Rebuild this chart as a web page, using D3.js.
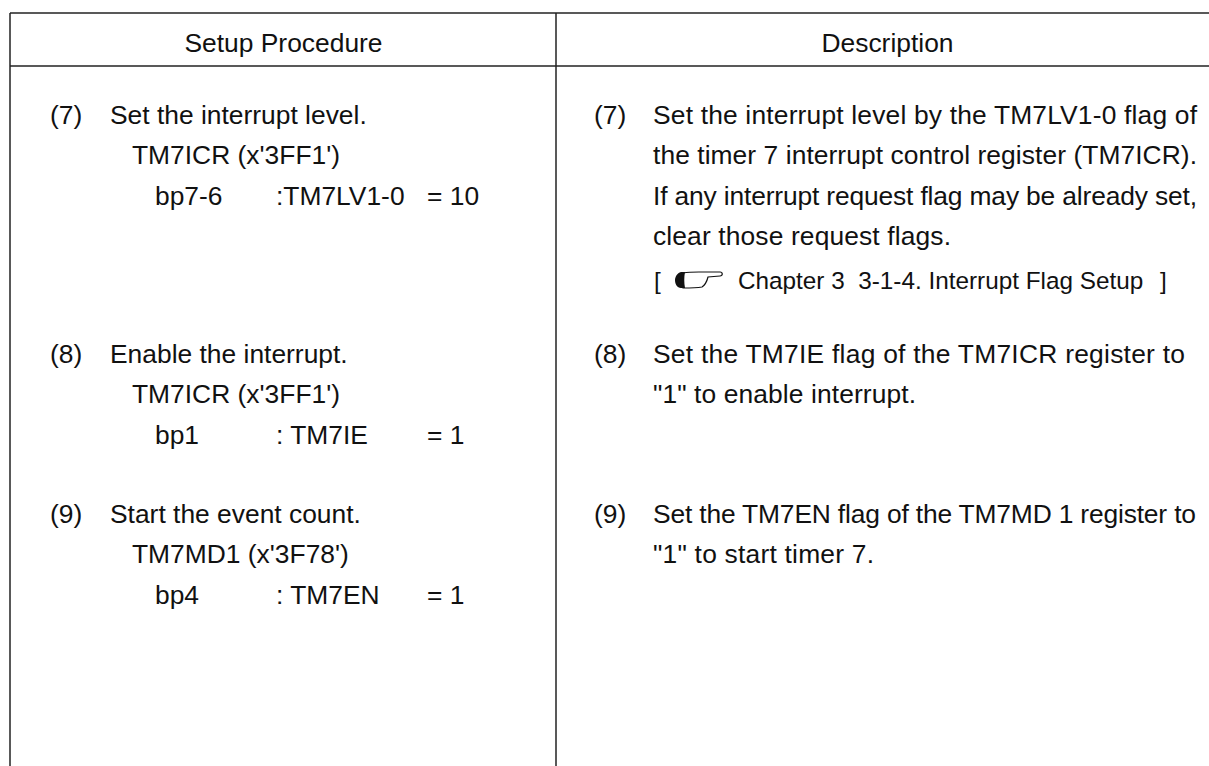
<!DOCTYPE html>
<html>
<head>
<meta charset="utf-8">
<script src="https://cdn.jsdelivr.net/npm/d3@7"></script>
<style>
html, body { margin: 0; padding: 0; background: #fff; }
svg { display: block; }
text { font-family: "Liberation Sans", Arial, sans-serif; fill: #111; font-size: 26.4px; white-space: pre; }
</style>
</head>
<body>
<svg width="1209" height="766"></svg>
<script>
var headers = ["Setup Procedure", "Description"];

var steps = ["(7)", "(8)", "(9)"];
var leftTitles = ["Set the interrupt level.", "Enable the interrupt.", "Start the event count."];
var leftRegisters = ["TM7ICR (x'3FF1')", "TM7ICR (x'3FF1')", "TM7MD1 (x'3F78')"];
var leftBits = ["bp7-6", "bp1", "bp4"];
var leftFlags = [":TM7LV1-0", ": TM7IE", ": TM7EN"];
var leftValues = ["= 10", "= 1", "= 1"];

var rightLines = [
    ["Set the interrupt level by the TM7LV1-0 flag of",
     "the timer 7 interrupt control register (TM7ICR).",
     "If any interrupt request flag may be already set,",
     "clear those request flags."],
    ["Set the TM7IE flag of the TM7ICR register to",
     "\"1\" to enable interrupt."],
    ["Set the TM7EN flag of the TM7MD 1 register to",
     "\"1\" to start timer 7."]
];
var refNote = ["[", "Chapter 3  3-1-4. Interrupt Flag Setup", "]"];

var svg = d3.select("svg");
var width = +svg.attr("width"), height = +svg.attr("height");

var left = 10, mid = 556, right = width, top_ = 13, headLine = 66;

// baseline of each step's first line, then a fixed line pitch
var stepY = d3.scaleOrdinal().domain(steps).range([124, 363, 523]);
var lineY = d3.scaleLinear().domain([0, 1]).range([0, 40.4]);

// where the source's description lines end, its hinted advances differ from ours
var rightEnds = [[1197, 1197, 1197, 951], [1185, 916], [1196, 874]];

// table frame
var rules = [
    [left, top_, right, top_],
    [left, headLine, right, headLine],
    [left, top_, left, height],
    [mid, top_, mid, height]
];
svg.append("g").selectAll("line").data(rules).enter().append("line")
    .attr("x1", function(d) { return d[0]; })
    .attr("y1", function(d) { return d[1]; })
    .attr("x2", function(d) { return d[2]; })
    .attr("y2", function(d) { return d[3]; })
    .attr("stroke", "#222")
    .attr("stroke-width", 1.5);

svg.append("g").selectAll("text").data(headers).enter().append("text")
    .attr("x", function(d, i) { return i == 0 ? 283.5 : 887.5; })
    .attr("y", 52)
    .attr("text-anchor", "middle")
    .text(function(d) { return d; });

function put(x, y, s) {
    return svg.append("text").attr("x", x).attr("y", y).text(s);
}

steps.forEach(function(step, i) {
    var y = stepY(step);
    put(50, y, step);
    put(110, y, leftTitles[i]);
    put(132, y + lineY(1), leftRegisters[i]);
    put(155, y + lineY(2), leftBits[i]);
    put(276, y + lineY(2), leftFlags[i]);
    put(427, y + lineY(2), leftValues[i]);

    put(594, y, step);
    rightLines[i].forEach(function(s, j) {
        put(653, y + lineY(j), s)
            .attr("textLength", rightEnds[i][j] - 653)
            .attr("lengthAdjust", "spacing");
    });
});

// reference note with the pointing hand
var noteY = 289;
svg.append("text").attr("x", 654).attr("y", noteY).style("font-size", "24.3px").text(refNote[0]);
svg.append("text").attr("x", 738).attr("y", noteY).style("font-size", "24.3px").text(refNote[1]);
svg.append("text").attr("x", 1160).attr("y", noteY).style("font-size", "24.3px").text(refNote[2]);

var hand = svg.append("g").attr("transform", "translate(675,270)");
hand.append("path")
    .attr("d", "M8,3 C14,2 20,2 24,2 L45,2 C48,2 48,6 45,6 L33,7 C32,11 30,15 27,17 C21,18 14,18 8,18 Z")
    .attr("fill", "#fff").attr("stroke", "#111").attr("stroke-width", 1.2);
hand.append("path")
    .attr("d", "M6,2 C2,3 0,7 0,10 C0,14 2,18 6,18 L10,18 C9,13 9,7 10,2 Z")
    .attr("fill", "#111");
</script>
</body>
</html>
